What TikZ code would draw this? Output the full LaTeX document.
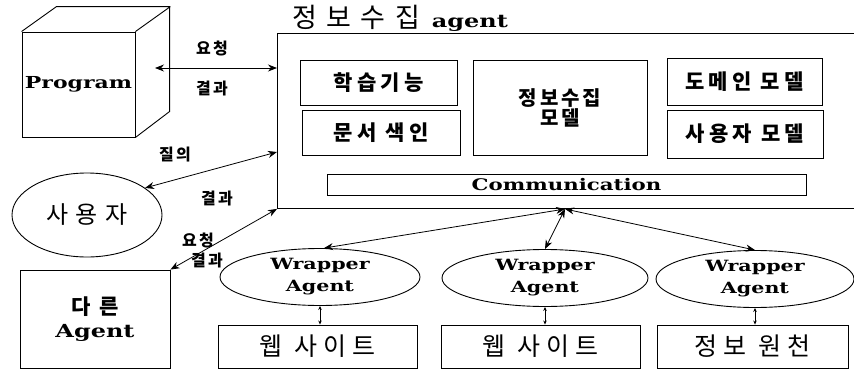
\documentclass[tikz,border=0pt]{standalone}
\usepackage{fontspec}
\usepackage{tikz}
\usetikzlibrary{shapes.geometric, arrows.meta, positioning}
\newfontfamily\krfont{Noto Sans CJK KR}
\newfontfamily\enfont[FakeStretch=1.33]{DejaVu Serif}
\tikzset{
    plain_box/.style={
        draw,
        line width=0.9pt,
        inner sep=0pt,
        align=center
    },
    inner_box/.style={
        plain_box,
        font=\krfont\bfseries\addfontfeature{LetterSpace=20}\fontsize{21}{24}\selectfont
    },
    wrap_node/.style={
        ellipse,
        draw,
        line width=0.9pt,
        inner sep=0pt,
        minimum width=200pt,
        minimum height=57pt,
        align=center,
        font=\enfont\bfseries\fontsize{15.5}{22}\selectfont
    },
    site_box/.style={
        plain_box,
        minimum width=199pt,
        minimum height=43pt,
        font=\krfont\addfontfeature{LetterSpace=25}\fontsize{25}{28}\selectfont
    },
    link_edge/.style={
        <->,
        >={Stealth[length=9pt, width=7pt]},
        line width=0.8pt
    },
    small_link/.style={
        <->,
        >={Stealth[length=4pt, width=3.5pt]},
        line width=0.7pt
    },
    lbl/.style={
        inner sep=0pt,
        font=\krfont\bfseries\addfontfeature{LetterSpace=15}\fontsize{16}{18}\selectfont
    }
}

\begin{document}
\begin{tikzpicture}[x=1pt, y=-1pt]
    \useasboundingbox (0,0) rectangle (854,372);
    \clip (0,0) rectangle (854,372);

    \node[plain_box, minimum width=113pt, minimum height=105pt,
        font=\enfont\bfseries\fontsize{16.5}{18}\selectfont] (prog) at (78.5,84.5) {Program};
    \draw[line width=0.9pt] (prog.north west) -- ++(35,-25) -- ++(113,0) -- ++(0,105) -- (prog.south east)
        (prog.north east) -- ++(35,-25);

    \node[draw, line width=0.9pt, anchor=north west, minimum width=620pt, minimum height=175pt] (agent) at (277,33) {};
    \node[anchor=south west, inner sep=2pt] (title) at (290,34)
        {{\krfont\addfontfeature{LetterSpace=35}\fontsize{27}{28}\selectfont 정보수집}\hspace{12pt}{\enfont\bfseries\fontsize{18}{18}\selectfont agent}};

    \node[inner_box, minimum width=157pt, minimum height=45pt] (learn) at (378.5,82.5) {학습기능};
    \node[inner_box, minimum width=158pt, minimum height=45pt] (index) at (381,132.5) {문서 색인};
    \node[inner_box, minimum width=174pt, minimum height=95pt,
        font=\krfont\bfseries\addfontfeature{LetterSpace=15}\fontsize{20}{20}\selectfont] (collect) at (560,107.5) {정보수집\\모델};
    \node[inner_box, minimum width=155pt, minimum height=47pt] (domain) at (744.5,81.5) {도메인 모델};
    \node[inner_box, minimum width=156pt, minimum height=48pt] (usermodel) at (745,134) {사용자 모델};
    \node[plain_box, minimum width=479pt, minimum height=21pt,
        font=\enfont\bfseries\fontsize{16}{18}\selectfont] (comm) at (566.5,185) {Communication};

    \node[ellipse, draw, line width=0.9pt, inner sep=0pt, minimum width=150pt, minimum height=84pt,
        font=\krfont\addfontfeature{LetterSpace=30}\fontsize{24}{26}\selectfont] (user) at (87,215) {사용자};
    \node[plain_box, minimum width=150pt, minimum height=98pt] (other) at (95,319)
        {{\krfont\bfseries\addfontfeature{LetterSpace=40}\fontsize{21}{24}\selectfont 다른}\\[7pt]
         {\enfont\bfseries\fontsize{18}{20}\selectfont Agent}};

    \node[wrap_node] (w1) at (320,277) {Wrapper\\Agent};
    \node[wrap_node, minimum width=206pt] (w2) at (545,278) {Wrapper\\Agent};
    \node[wrap_node, minimum width=198pt] (w3) at (755,279) {Wrapper\\Agent};

    \node[site_box] (site1) at (317.5,346.5) {웹 사이트};
    \node[site_box] (site2) at (540.5,346.5) {웹 사이트};
    \node[site_box, minimum width=191pt] (src) at (752.5,346.5) {정보 원천};

    \coordinate (p_out) at (155,68);
    \coordinate (a_prog) at (277,68);
    \coordinate (a_user) at (277,152);
    \coordinate (hub) at (565,209);

    \draw[link_edge] (p_out) -- (a_prog);
    \draw[link_edge] (user.25) -- (a_user);
    \draw[link_edge] (other.north east) -- (agent.south west);
    \draw[link_edge] (hub) -- (w1.82);
    \draw[link_edge] (hub) -- (w2.north);
    \draw[link_edge] (hub) -- (w3.north);
    \draw[small_link] (w1.south) -- (w1.south |- site1.north);
    \draw[small_link] (w2.south) -- (w2.south |- site2.north);
    \draw[small_link] (w3.south) -- (w3.south |- src.north);

    \node[lbl] (req1) at (212,48) {요청};
    \node[lbl] (res1) at (212,88) {결과};
    \node[lbl] (ask) at (175,155) {질의};
    \node[lbl] (res2) at (217,198) {결과};
    \node[lbl] (req3) at (198,240) {요청};
    \node[lbl] (res3) at (207,260) {결과};
\end{tikzpicture}
\end{document}
